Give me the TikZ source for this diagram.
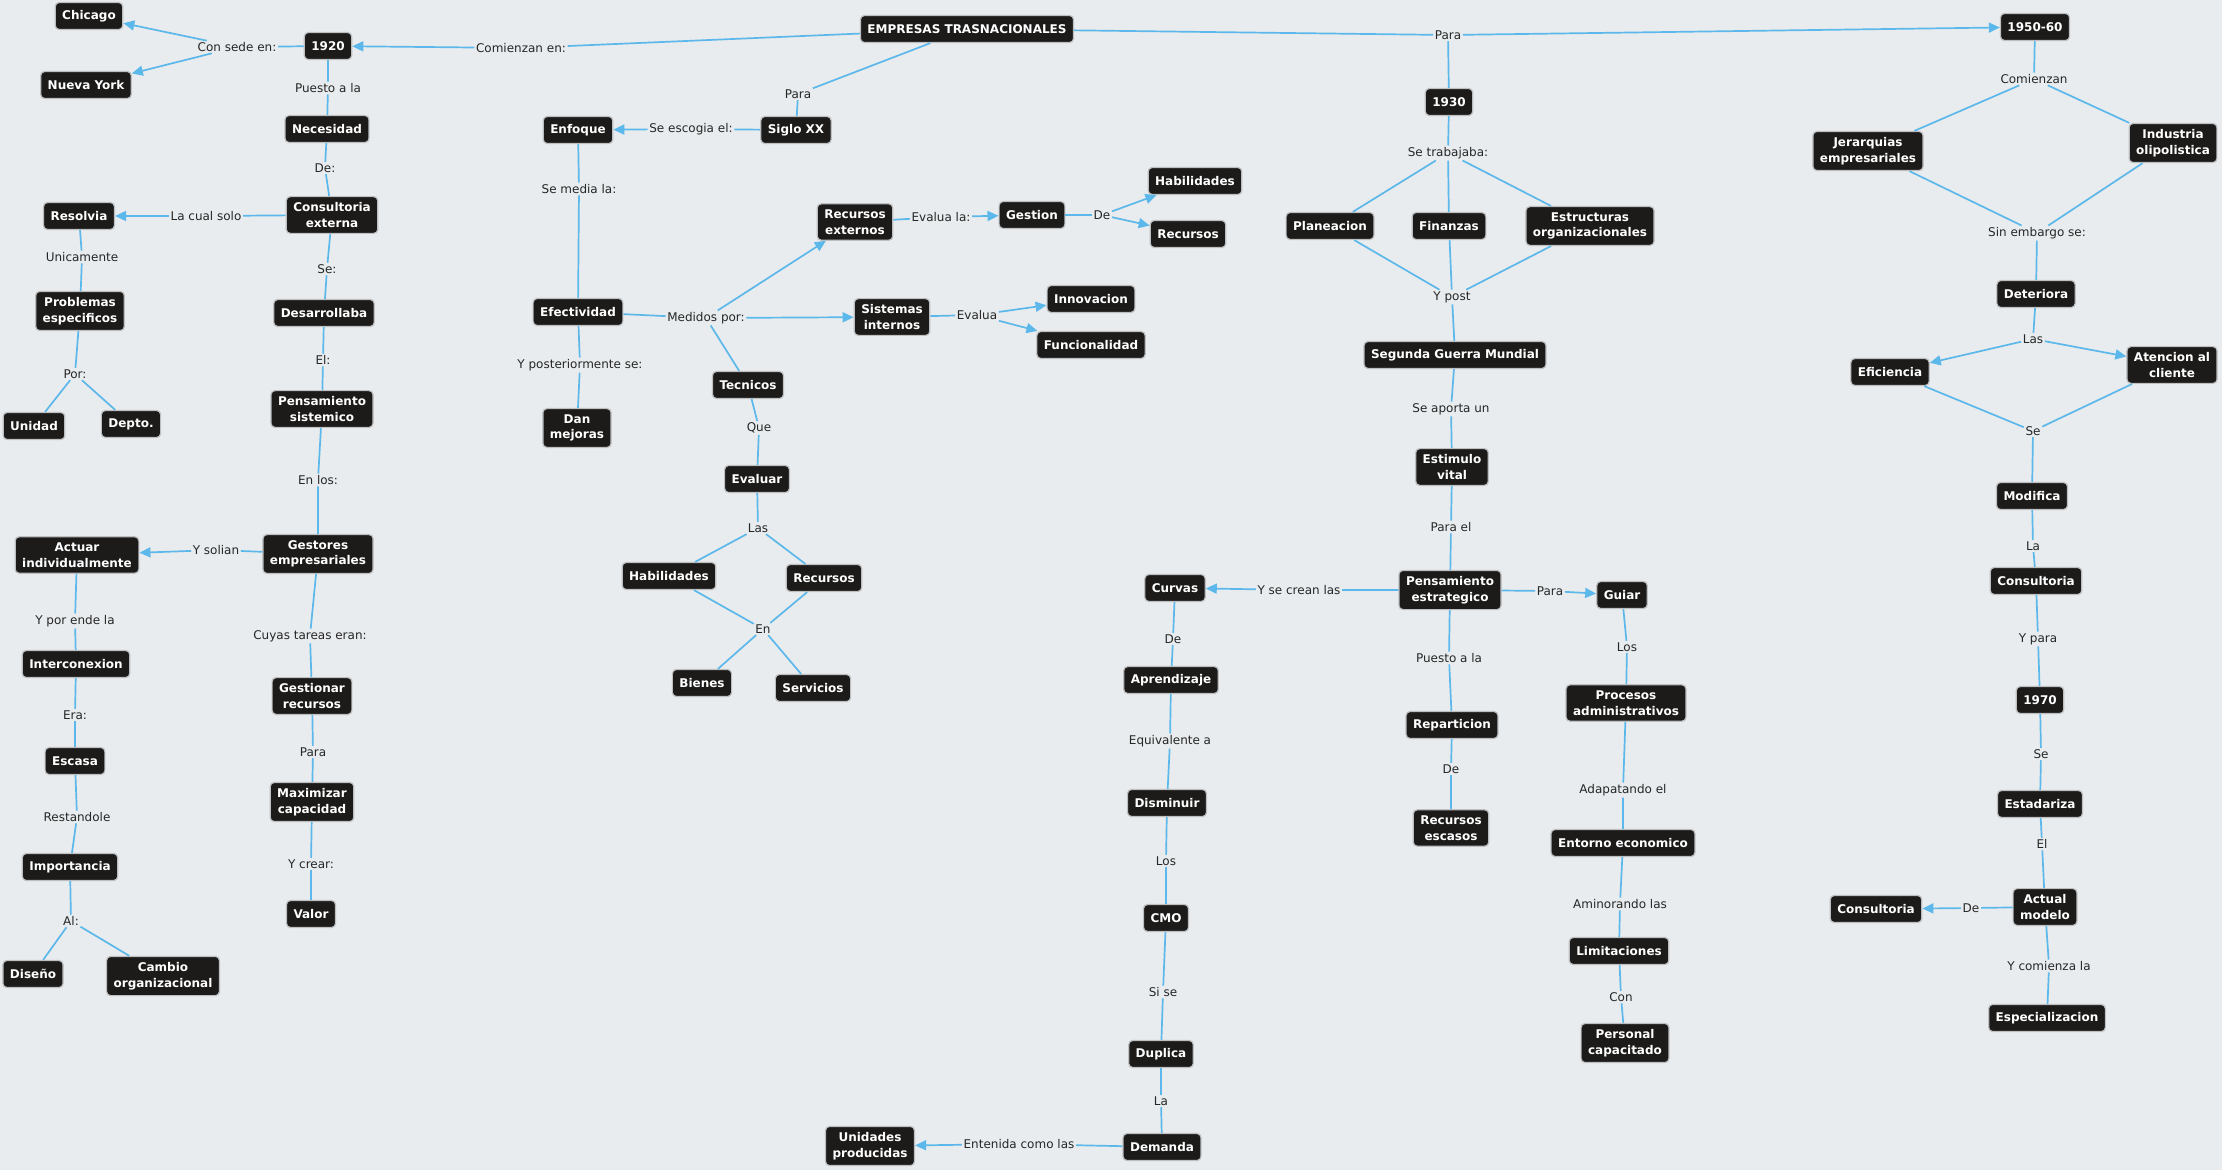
\documentclass[tikz,border=0pt]{standalone}
\usepackage{fontspec}
\setmainfont{DejaVu Sans}
\usepackage{xcolor}
\usetikzlibrary{arrows.meta}
\definecolor{mapback}{RGB}{232,236,238}
\definecolor{mapline}{RGB}{92,184,234}
\definecolor{mapbox}{RGB}{28,27,26}
\definecolor{mapedge}{RGB}{188,190,192}
\tikzset{
  conceptbox/.style={draw=mapedge,line width=1.2pt,fill=mapbox,rounded corners=4pt,text=white,
    font=\fontsize{12}{15.5}\selectfont\bfseries,align=center,inner xsep=7pt,inner ysep=6pt,
    minimum height=27pt},
  phrase/.style={font=\fontsize{12}{14}\selectfont,text=black!85,inner sep=1.5pt},
  linkline/.style={draw=mapline,line width=1.7pt},
  linkarrow/.style={linkline,-{Triangle[length=11pt,width=10pt]}}
}

\begin{document}
\begin{tikzpicture}[x=1pt,y=-1pt]
  \fill[mapback] (0,0) rectangle (2222,1170);
  \useasboundingbox (0,0) rectangle (2222,1170);

  % 1920 branch
  \node[conceptbox] (chicago) at (89,16) {Chicago};
  \node[conceptbox] (nuevayork) at (86,85) {Nueva York};
  \node[conceptbox] (n1920) at (328,46) {1920};
  \node[conceptbox] (necesidad) at (327,129) {Necesidad};
  \node[conceptbox] (consultext) at (332,215) {Consultoria\\externa};
  \node[conceptbox] (resolvia) at (79,216) {Resolvia};
  \node[conceptbox] (problemas) at (80,311) {Problemas\\especificos};
  \node[conceptbox] (unidad) at (34,426) {Unidad};
  \node[conceptbox] (depto) at (131,424) {Depto.};
  \node[conceptbox] (desarrollaba) at (324,313) {Desarrollaba};
  \node[conceptbox] (pensist) at (322,409) {Pensamiento\\sistemico};
  \node[conceptbox] (gestores) at (318,554) {Gestores\\empresariales};
  \node[conceptbox] (actuar) at (77,555) {Actuar\\individualmente};
  \node[conceptbox] (intercon) at (76,664) {Interconexion};
  \node[conceptbox] (escasa) at (75,761) {Escasa};
  \node[conceptbox] (importancia) at (70,867) {Importancia};
  \node[conceptbox] (diseno) at (33,974) {Diseño};
  \node[conceptbox] (cambio) at (163,976) {Cambio\\organizacional};
  \node[conceptbox] (gestionar) at (312,696) {Gestionar\\recursos};
  \node[conceptbox] (maximizar) at (312,802) {Maximizar\\capacidad};
  \node[conceptbox] (valor) at (311,914) {Valor};

  \node[phrase] (lComienzan) at (521,48) {Comienzan en:};
  \node[phrase] (lConSede) at (237,47) {Con sede en:};
  \node[phrase] (lPuesto) at (328,88) {Puesto a la};
  \node[phrase] (lDe1) at (325,168) {De:};
  \node[phrase] (lCualSolo) at (206,216) {La cual solo};
  \node[phrase] (lUnicamente) at (82,257) {Unicamente};
  \node[phrase] (lPor) at (75,374) {Por:};
  \node[phrase] (lSe1) at (327,269) {Se:};
  \node[phrase] (lEl1) at (323,360) {El:};
  \node[phrase] (lEnLos) at (318,480) {En los:};
  \node[phrase] (lSolian) at (216,550) {Y solian};
  \node[phrase] (lPorEnde) at (75,621) {Y por ende la};
  \node[phrase] (lEra) at (75,715) {Era:};
  \node[phrase] (lRestandole) at (77,817) {Restandole};
  \node[phrase] (lAl) at (71,921) {Al:};
  \node[phrase] (lCuyas) at (310,636) {Cuyas tareas eran:};
  \node[phrase] (lPara1) at (313,752) {Para};
  \node[phrase] (lCrear) at (311,864) {Y crear:};

  % Siglo XX branch
  \node[conceptbox] (empresas) at (967,29) {EMPRESAS TRASNACIONALES};
  \node[conceptbox] (siglo) at (796,130) {Siglo XX};
  \node[conceptbox] (enfoque) at (578,130) {Enfoque};
  \node[conceptbox] (efectividad) at (578,312) {Efectividad};
  \node[conceptbox] (danmejoras) at (577,428) {Dan\\mejoras};
  \node[conceptbox] (recext) at (855,222) {Recursos\\externos};
  \node[conceptbox] (gestion) at (1032,215) {Gestion};
  \node[conceptbox] (habtop) at (1195,181) {Habilidades};
  \node[conceptbox] (rectop) at (1188,234) {Recursos};
  \node[conceptbox] (sistint) at (892,317) {Sistemas\\internos};
  \node[conceptbox] (innovacion) at (1091,299) {Innovacion};
  \node[conceptbox] (funcionalidad) at (1091,345) {Funcionalidad};
  \node[conceptbox] (tecnicos) at (748,385) {Tecnicos};
  \node[conceptbox] (evaluar) at (757,479) {Evaluar};
  \node[conceptbox] (habilidades) at (669,576) {Habilidades};
  \node[conceptbox] (recursos) at (824,578) {Recursos};
  \node[conceptbox] (bienes) at (702,683) {Bienes};
  \node[conceptbox] (servicios) at (813,688) {Servicios};

  \node[phrase] (lPara2) at (798,94) {Para};
  \node[phrase] (lEscogia) at (691,129) {Se escogia el:};
  \node[phrase] (lMedia) at (579,189) {Se media la:};
  \node[phrase] (lPosterior) at (580,365) {Y posteriormente se:};
  \node[phrase] (lMedidos) at (706,318) {Medidos por:};
  \node[phrase] (lEvaluaLa) at (941,217) {Evalua la:};
  \node[phrase] (lDe2) at (1102,215) {De};
  \node[phrase] (lEvalua) at (977,315) {Evalua};
  \node[phrase] (lQue) at (759,428) {Que};
  \node[phrase] (lLas1) at (758,528) {Las};
  \node[phrase] (lEn) at (763,629) {En};

  % 1930 branch
  \node[conceptbox] (n1930) at (1449,102) {1930};
  \node[conceptbox] (planeacion) at (1330,226) {Planeacion};
  \node[conceptbox] (finanzas) at (1449,226) {Finanzas};
  \node[conceptbox] (estructuras) at (1590,226) {Estructuras\\organizacionales};
  \node[conceptbox] (segunda) at (1455,355) {Segunda Guerra Mundial};
  \node[conceptbox] (estimulo) at (1452,467) {Estimulo\\vital};
  \node[conceptbox] (penest) at (1450,590) {Pensamiento\\estrategico};
  \node[conceptbox] (curvas) at (1175,588) {Curvas};
  \node[conceptbox] (guiar) at (1622,595) {Guiar};
  \node[conceptbox] (aprendizaje) at (1171,680) {Aprendizaje};
  \node[conceptbox] (reparticion) at (1452,725) {Reparticion};
  \node[conceptbox] (procesos) at (1626,703) {Procesos\\administrativos};
  \node[conceptbox] (recescasos) at (1451,828) {Recursos\\escasos};
  \node[conceptbox] (disminuir) at (1167,803) {Disminuir};
  \node[conceptbox] (entorno) at (1623,843) {Entorno economico};
  \node[conceptbox] (cmo) at (1166,918) {CMO};
  \node[conceptbox] (limitaciones) at (1619,951) {Limitaciones};
  \node[conceptbox] (personal) at (1625,1043) {Personal\\capacitado};
  \node[conceptbox] (duplica) at (1161,1054) {Duplica};
  \node[conceptbox] (demanda) at (1162,1147) {Demanda};
  \node[conceptbox] (unidades) at (870,1146) {Unidades\\producidas};

  \node[phrase] (lPara3) at (1448,35) {Para};
  \node[phrase] (lTrabajaba) at (1448,153) {Se trabajaba:};
  \node[phrase] (lPost) at (1452,297) {Y post};
  \node[phrase] (lAporta) at (1451,409) {Se aporta un};
  \node[phrase] (lParaEl) at (1451,527) {Para el};
  \node[phrase] (lCrean) at (1299,590) {Y se crean las};
  \node[phrase] (lPara4) at (1550,591) {Para};
  \node[phrase] (lPuesto2) at (1449,658) {Puesto a la};
  \node[phrase] (lDe3) at (1451,769) {De};
  \node[phrase] (lDe4) at (1173,639) {De};
  \node[phrase] (lEquivalente) at (1170,741) {Equivalente a};
  \node[phrase] (lLos1) at (1166,861) {Los};
  \node[phrase] (lSiSe) at (1163,992) {Si se};
  \node[phrase] (lLa1) at (1161,1101) {La};
  \node[phrase] (lEntenida) at (1019,1144) {Entenida como las};
  \node[phrase] (lLos2) at (1627,647) {Los};
  \node[phrase] (lAdapatando) at (1623,790) {Adapatando el};
  \node[phrase] (lAminorando) at (1620,904) {Aminorando las};
  \node[phrase] (lCon) at (1621,997) {Con};

  % 1950-60 branch
  \node[conceptbox] (n1950) at (2035,27) {1950-60};
  \node[conceptbox] (jerarquias) at (1868,151) {Jerarquias\\empresariales};
  \node[conceptbox] (industria) at (2173,143) {Industria\\olipolistica};
  \node[conceptbox] (deteriora) at (2036,294) {Deteriora};
  \node[conceptbox] (eficiencia) at (1890,372) {Eficiencia};
  \node[conceptbox] (atencion) at (2172,365) {Atencion al\\cliente};
  \node[conceptbox] (modifica) at (2032,496) {Modifica};
  \node[conceptbox] (consultoria) at (2036,581) {Consultoria};
  \node[conceptbox] (n1970) at (2040,700) {1970};
  \node[conceptbox] (estadariza) at (2040,804) {Estadariza};
  \node[conceptbox] (actual) at (2045,907) {Actual\\modelo};
  \node[conceptbox] (consultleft) at (1876,909) {Consultoria};
  \node[conceptbox] (especial) at (2047,1018) {Especializacion};

  \node[phrase] (lComienzan2) at (2034,79) {Comienzan};
  \node[phrase] (lSinEmbargo) at (2037,233) {Sin embargo se:};
  \node[phrase] (lLas2) at (2033,339) {Las};
  \node[phrase] (lSe2) at (2033,431) {Se};
  \node[phrase] (lLa2) at (2033,546) {La};
  \node[phrase] (lYPara) at (2038,639) {Y para};
  \node[phrase] (lSe3) at (2041,754) {Se};
  \node[phrase] (lEl2) at (2042,844) {El};
  \node[phrase] (lDe5) at (1971,908) {De};
  \node[phrase] (lComienza) at (2049,966) {Y comienza la};

  % connectors
  \draw[linkarrow] (empresas) -- (lComienzan) -- (n1920);
  \draw[linkline] (n1920) -- (lConSede);
  \draw[linkarrow] (lConSede) -- (chicago);
  \draw[linkarrow] (lConSede) -- (nuevayork);
  \draw[linkline] (n1920) -- (lPuesto) -- (necesidad) -- (lDe1) -- (consultext);
  \draw[linkarrow] (consultext) -- (lCualSolo) -- (resolvia);
  \draw[linkline] (resolvia) -- (lUnicamente) -- (problemas) -- (lPor);
  \draw[linkline] (lPor) -- (unidad);
  \draw[linkline] (lPor) -- (depto);
  \draw[linkline] (consultext) -- (lSe1) -- (desarrollaba) -- (lEl1) -- (pensist) -- (lEnLos) -- (gestores);
  \draw[linkarrow] (gestores) -- (lSolian) -- (actuar);
  \draw[linkline] (actuar) -- (lPorEnde) -- (intercon) -- (lEra) -- (escasa) -- (lRestandole) -- (importancia) -- (lAl);
  \draw[linkline] (lAl) -- (diseno);
  \draw[linkline] (lAl) -- (cambio);
  \draw[linkline] (gestores) -- (lCuyas) -- (gestionar) -- (lPara1) -- (maximizar) -- (lCrear) -- (valor);

  \draw[linkline] (empresas) -- (lPara2) -- (siglo);
  \draw[linkarrow] (siglo) -- (lEscogia) -- (enfoque);
  \draw[linkline] (enfoque) -- (lMedia) -- (efectividad) -- (lPosterior) -- (danmejoras);
  \draw[linkline] (efectividad) -- (lMedidos);
  \draw[linkarrow] (lMedidos) -- (recext);
  \draw[linkarrow] (lMedidos) -- (sistint);
  \draw[linkline] (lMedidos) -- (tecnicos);
  \draw[linkarrow] (recext) -- (lEvaluaLa) -- (gestion);
  \draw[linkline] (gestion) -- (lDe2);
  \draw[linkarrow] (lDe2) -- (habtop);
  \draw[linkarrow] (lDe2) -- (rectop);
  \draw[linkline] (sistint) -- (lEvalua);
  \draw[linkarrow] (lEvalua) -- (innovacion);
  \draw[linkarrow] (lEvalua) -- (funcionalidad);
  \draw[linkline] (tecnicos) -- (lQue) -- (evaluar) -- (lLas1);
  \draw[linkline] (lLas1) -- (habilidades);
  \draw[linkline] (lLas1) -- (recursos);
  \draw[linkline] (habilidades) -- (lEn);
  \draw[linkline] (recursos) -- (lEn);
  \draw[linkline] (lEn) -- (bienes);
  \draw[linkline] (lEn) -- (servicios);

  \draw[linkline] (empresas) -- (lPara3);
  \draw[linkarrow] (lPara3) -- (n1950);
  \draw[linkline] (lPara3) -- (n1930) -- (lTrabajaba);
  \draw[linkline] (lTrabajaba) -- (planeacion) -- (lPost);
  \draw[linkline] (lTrabajaba) -- (finanzas) -- (lPost);
  \draw[linkline] (lTrabajaba) -- (estructuras) -- (lPost);
  \draw[linkline] (lPost) -- (segunda) -- (lAporta) -- (estimulo) -- (lParaEl) -- (penest);
  \draw[linkarrow] (penest) -- (lCrean) -- (curvas);
  \draw[linkarrow] (penest) -- (lPara4) -- (guiar);
  \draw[linkline] (penest) -- (lPuesto2) -- (reparticion) -- (lDe3) -- (recescasos);
  \draw[linkline] (curvas) -- (lDe4) -- (aprendizaje) -- (lEquivalente) -- (disminuir) -- (lLos1) -- (cmo) -- (lSiSe) -- (duplica) -- (lLa1) -- (demanda);
  \draw[linkarrow] (demanda) -- (lEntenida) -- (unidades);
  \draw[linkline] (guiar) -- (lLos2) -- (procesos) -- (lAdapatando) -- (entorno) -- (lAminorando) -- (limitaciones) -- (lCon) -- (personal);

  \draw[linkline] (n1950) -- (lComienzan2);
  \draw[linkline] (lComienzan2) -- (jerarquias) -- (lSinEmbargo);
  \draw[linkline] (lComienzan2) -- (industria) -- (lSinEmbargo);
  \draw[linkline] (lSinEmbargo) -- (deteriora) -- (lLas2);
  \draw[linkarrow] (lLas2) -- (eficiencia);
  \draw[linkarrow] (lLas2) -- (atencion);
  \draw[linkline] (eficiencia) -- (lSe2);
  \draw[linkline] (atencion) -- (lSe2);
  \draw[linkline] (lSe2) -- (modifica) -- (lLa2) -- (consultoria) -- (lYPara) -- (n1970) -- (lSe3) -- (estadariza) -- (lEl2) -- (actual);
  \draw[linkarrow] (actual) -- (lDe5) -- (consultleft);
  \draw[linkline] (actual) -- (lComienza) -- (especial);
\end{tikzpicture}
\end{document}
